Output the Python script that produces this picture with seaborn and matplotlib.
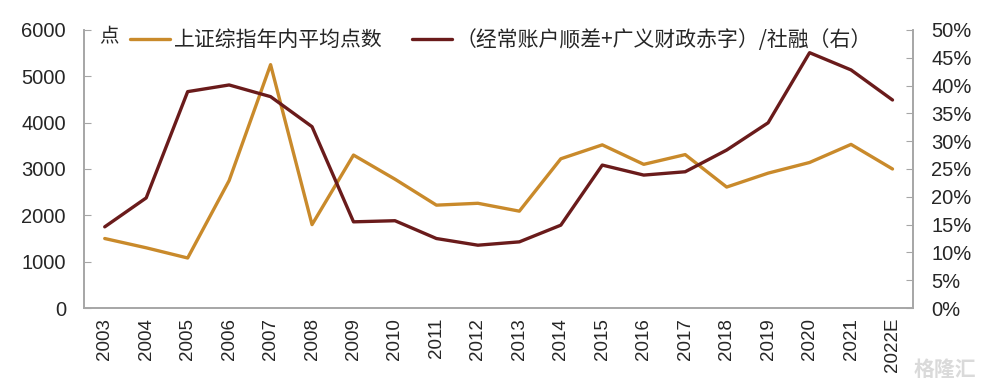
import numpy as np
import pandas as pd
import matplotlib
matplotlib.use('Agg')
import matplotlib.pyplot as plt
import seaborn as sns
from matplotlib.ticker import FixedLocator, PercentFormatter

# data
years = ['2003', '2004', '2005', '2006', '2007', '2008', '2009', '2010', '2011', '2012',
         '2013', '2014', '2015', '2016', '2017', '2018', '2019', '2020', '2021', '2022E']
sh_avg = [1500, 1300, 1080, 2750, 5250, 1800, 3300, 2780, 2220, 2260,
          2090, 3220, 3520, 3100, 3310, 2610, 2910, 3140, 3530, 3000]
ratio = [14.6, 19.8, 38.9, 40.1, 38.0, 32.6, 15.5, 15.7, 12.5, 11.3,
         11.9, 14.9, 25.7, 23.9, 24.5, 28.4, 33.3, 45.9, 42.8, 37.4]

label_left = '上证综指年内平均点数'
label_right = '（经常账户顺差+广义财政赤字）/社融（右）'

df = pd.DataFrame({'x': np.arange(len(years)), 'sh': sh_avg, 'ratio': ratio})

sns.set_style('white')
plt.rcParams['font.family'] = ['Liberation Sans', 'Noto Sans CJK SC', 'DejaVu Sans']
cjk = ['Noto Sans CJK SC', 'DejaVu Sans']

c_orange = '#C98A2B'
c_dark = '#6A1B1B'
c_axis = '#A6A6A6'

fig = plt.figure(figsize=(9.86, 3.88), dpi=100)
ax = fig.add_axes([0.0852, 0.206, 0.841, 0.717])
ax2 = ax.twinx()

sns.lineplot(data=df, x='x', y='sh', ax=ax, color=c_orange, linewidth=2.4,
             label=label_left, legend=False)
sns.lineplot(data=df, x='x', y='ratio', ax=ax2, color=c_dark, linewidth=2.4,
             label=label_right, legend=False)
for ln in ax.lines + ax2.lines:
    ln.set_solid_joinstyle('round')
    ln.set_solid_capstyle('round')

ax.set_xlim(-0.5, len(years) - 0.5)
ax.set_ylim(0, 6000)
ax2.set_ylim(0, 50)
ax.set_yticks(range(0, 6001, 1000))
ax2.set_yticks(range(0, 51, 5))
ax2.yaxis.set_major_formatter(PercentFormatter(decimals=0))

ax.set_xticks(np.arange(len(years)))
ax.set_xticklabels(years, rotation=90)
ax.xaxis.set_minor_locator(FixedLocator(np.arange(-0.5, len(years), 2)))
ax.tick_params(axis='x', which='major', length=0, labelsize=13.5, pad=7)
ax.tick_params(axis='x', which='minor', length=5, direction='in', color=c_axis, width=1)
ax.tick_params(axis='y', length=5, direction='in', color=c_axis, labelsize=14.5, pad=13)
ax2.tick_params(axis='y', length=5, direction='in', color=c_axis, labelsize=14.5, pad=13)

for a in (ax, ax2):
    a.set_xlabel('')
    a.set_ylabel('')
    a.spines['top'].set_visible(False)
    for s in ('left', 'right', 'bottom'):
        a.spines[s].set_color(c_axis)
        a.spines[s].set_linewidth(1.2)

ax.text(0.018, 0.975, '点', transform=ax.transAxes, fontsize=14,
        family=cjk, va='center', ha='left')

h1, l1 = ax.get_legend_handles_labels()
h2, l2 = ax2.get_legend_handles_labels()
leg = ax2.legend(h1 + h2, l1 + l2, loc='center left', bbox_to_anchor=(0.056, 0.962),
                 ncol=2, frameon=False, fontsize=15, handlelength=1.9,
                 columnspacing=1.4, handletextpad=0.2, borderpad=0, borderaxespad=0)
for t in leg.get_texts():
    t.set_family(cjk)
    t.set_color('#262626')

fig.text(0.99, 0.02, '格隆汇', ha='right', va='bottom', fontsize=15, color='#DADADA',
         family=cjk, fontweight='bold')

fig.savefig('out.png', dpi=100)
